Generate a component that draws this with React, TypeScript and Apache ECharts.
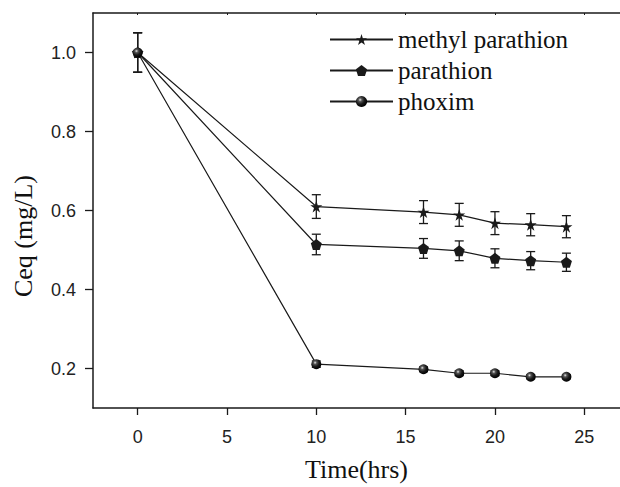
import React, { useEffect, useRef } from "react";
import * as echarts from "echarts";

const times = [0, 10, 16, 18, 20, 22, 24];
const methylParathion = [1.0, 0.61, 0.596, 0.589, 0.568, 0.564, 0.559];
const methylErr = [0.05, 0.03, 0.029, 0.029, 0.029, 0.028, 0.028];
const parathion = [1.0, 0.514, 0.504, 0.498, 0.479, 0.473, 0.469];
const parathionErr = [0.05, 0.026, 0.025, 0.025, 0.024, 0.023, 0.023];
const phoxim = [1.0, 0.211, 0.198, 0.188, 0.188, 0.179, 0.179];
const phoximErr = [0.05, 0.008, 0.006, 0.006, 0.006, 0.005, 0.005];
const xTicks = [0, 5, 10, 15, 20, 25];
const yTicks = [0.2, 0.4, 0.6, 0.8, 1.0];
const seriesNames = ["methyl parathion", "parathion", "phoxim"];

const STAR =
  "path://M50 0 L61.23 34.55 L97.55 34.55 L68.16 55.9 L79.39 90.45 L50 69.1 L20.61 90.45 L31.84 55.9 L2.45 34.55 L38.77 34.55 Z";
const PENTAGON = "path://M50 0 L97.55 34.55 L79.39 90.45 L20.61 90.45 L2.45 34.55 Z";

const INK = "#1a1a1a";
const SERIF = "'Liberation Serif', 'DejaVu Serif', serif";
const SANS = "'Liberation Sans', Arial, sans-serif";

const sphere = new echarts.graphic.RadialGradient(0.38, 0.35, 0.65, [
  { offset: 0, color: "#e8e8e8" },
  { offset: 0.25, color: "#555" },
  { offset: 0.6, color: "#1a1a1a" },
  { offset: 1, color: "#000" },
]);

function errData(vals: number[], errs: number[]) {
  return times.map((t, i) => [t, vals[i] - errs[i], vals[i] + errs[i]]);
}

function errSeries(name: string, vals: number[], errs: number[]) {
  return {
    type: "custom",
    name,
    z: 1,
    silent: true,
    encode: { x: 0, y: [1, 2] },
    data: errData(vals, errs),
    renderItem: (params: any, api: any) => {
      const x = api.value(0);
      const lo = api.value(1);
      const hi = api.value(2);
      const p1 = api.coord([x, hi]);
      const p2 = api.coord([x, lo]);
      const hw = 4.5;
      const style = { stroke: INK, lineWidth: 1.3 };
      return {
        type: "group",
        children: [
          { type: "line", shape: { x1: p1[0], y1: p1[1], x2: p2[0], y2: p2[1] }, style },
          { type: "line", shape: { x1: p1[0] - hw, y1: p1[1], x2: p1[0] + hw, y2: p1[1] }, style },
          { type: "line", shape: { x1: p2[0] - hw, y1: p2[1], x2: p2[0] + hw, y2: p2[1] }, style },
        ],
      };
    },
  };
}

function lineSeries(name: string, vals: number[], symbol: string, size: number, color: any) {
  return {
    type: "line",
    name,
    z: 3,
    data: times.map((t, i) => [t, vals[i]]),
    symbol,
    symbolSize: size,
    showSymbol: true,
    lineStyle: { color: INK, width: 1.2 },
    itemStyle: { color, borderWidth: 0 },
    emphasis: { disabled: true },
  };
}

export default function App() {
  const ref = useRef<HTMLDivElement>(null);
  useEffect(() => {
    if (!ref.current) return;
    const chart = echarts.init(ref.current, null, { renderer: "svg" });
    const axisLine = { show: true, onZero: false, lineStyle: { color: INK, width: 1.5 } };
    chart.setOption({
      animation: false,
      backgroundColor: "#fff",
      grid: { left: 93, top: 13, right: 0, bottom: 76 },
      legend: {
        orient: "vertical",
        left: 324,
        top: 22,
        itemWidth: 63,
        itemHeight: 14,
        itemGap: 6,
        data: seriesNames,
        textStyle: { fontFamily: SERIF, fontSize: 25, color: "#111" },
      },
      xAxis: [
        {
          type: "value",
          min: -2.5,
          max: 27,
          splitLine: { show: false },
          axisLine,
          axisTick: { show: true, length: 7, inside: false, customValues: xTicks, lineStyle: { color: INK, width: 1.3 } },
          axisLabel: {
            customValues: xTicks,
            margin: 20,
            fontFamily: SANS,
            fontSize: 18,
            color: "#222",
          },
          name: "Time(hrs)",
          nameLocation: "middle",
          nameGap: 48,
          nameTextStyle: { fontFamily: SERIF, fontSize: 26, color: "#111" },
        },
        {
          type: "value",
          position: "top",
          min: -2.5,
          max: 27,
          splitLine: { show: false },
          axisLine,
          axisTick: { show: true, length: 2, inside: true, customValues: xTicks, lineStyle: { color: INK } },
          axisLabel: { show: false },
        },
      ],
      yAxis: {
        type: "value",
        min: 0.1,
        max: 1.1,
        splitLine: { show: false },
        axisLine,
        axisTick: { show: true, length: 8, inside: false, customValues: yTicks, lineStyle: { color: INK, width: 1.3 } },
        axisLabel: {
          customValues: yTicks,
          margin: 17,
          fontFamily: SANS,
          fontSize: 18,
          color: "#222",
          formatter: (v: number) => v.toFixed(1),
        },
      },
      graphic: [
        {
          type: "text",
          x: 23,
          y: 236,
          rotation: Math.PI / 2,
          style: {
            text: "Ceq (mg/L)",
            fontFamily: SERIF,
            fontSize: 26,
            fill: "#111",
            textAlign: "center",
            textVerticalAlign: "middle",
          },
        },
      ],
      series: [
        errSeries("err-mp", methylParathion, methylErr),
        errSeries("err-p", parathion, parathionErr),
        errSeries("err-ph", phoxim, phoximErr),
        lineSeries(seriesNames[0], methylParathion, STAR, 12, INK),
        lineSeries(seriesNames[1], parathion, PENTAGON, 11, INK),
        lineSeries(seriesNames[2], phoxim, "circle", 10, sphere),
      ],
    });
    return () => chart.dispose();
  }, []);
  return (
    <div
      ref={ref}
      style={{ position: "fixed", left: 0, top: 0, width: 620, height: 487, background: "#fff" }}
    />
  );
}
